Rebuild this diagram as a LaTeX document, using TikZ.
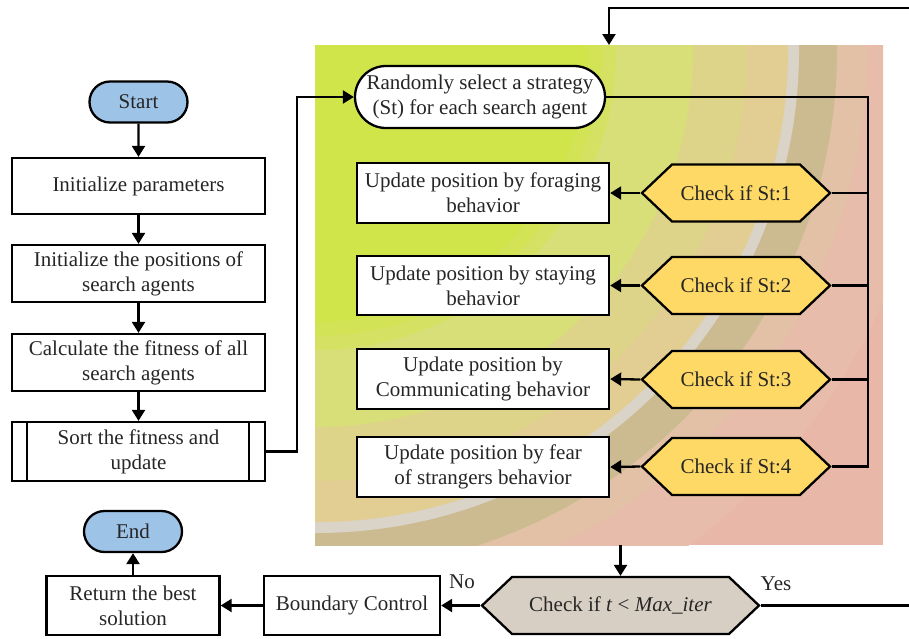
\documentclass[tikz,border=0pt]{standalone}
\usepackage{fontspec}
\setmainfont{Liberation Serif}
\usetikzlibrary{shapes.misc,shapes.symbols,arrows.meta,calc}
\definecolor{lime}{HTML}{CFE54A}
\definecolor{limeb}{HTML}{D2E355}
\definecolor{limec}{HTML}{D5E163}
\definecolor{ygreen}{HTML}{D8DF78}
\definecolor{tana}{HTML}{DDD48A}
\definecolor{tanb}{HTML}{E2CE92}
\definecolor{wband}{HTML}{DAD3C7}
\definecolor{dtan}{HTML}{CCBB91}
\definecolor{pinka}{HTML}{E3C1A6}
\definecolor{pinkb}{HTML}{E8BCAA}
\definecolor{pinkc}{HTML}{E9B7A8}
\definecolor{startblue}{HTML}{9DC3E6}
\definecolor{gold}{HTML}{FFD966}
\definecolor{chkgrey}{HTML}{D8CFC4}
\begin{document}
\begin{tikzpicture}[x=1pt,y=-1pt,
  every node/.style={font=\fontsize{21}{25}\selectfont, text=black!85},
  term/.style={rounded rectangle, draw, line width=2.3pt, fill=startblue, minimum width=102pt, minimum height=41pt, inner sep=2pt},
  proc/.style={rectangle, draw, line width=2.3pt, fill=white, align=center, inner sep=1pt},
  pill/.style={rounded rectangle, draw, line width=2.3pt, fill=white, align=center, inner sep=1pt, minimum width=252pt, minimum height=62pt},
  hexa/.style={signal, signal to=west and east, signal pointer angle=87, draw, line width=2.3pt, fill=gold, minimum width=188pt, minimum height=57pt, inner sep=2pt},
  conn/.style={line width=2.3pt},
  arr/.style={line width=2.3pt, -{Triangle[length=11pt,width=13pt]}},
  lbl/.style={inner sep=0pt}
]
\useasboundingbox (0,0) rectangle (909,638);
% background panel
\begin{scope}
\clip (315,45) rectangle (883,545);
\fill[pinkc] (315,45) rectangle (883,545);
\foreach \r/\c in {620/pinkb, 551/pinka, 521/dtan, 483/wband, 472/tanb, 431/tana, 377/ygreen, 300/limec, 286/limeb, 272/lime}
  \fill[\c] (316,50) circle[radius=\r pt];
\end{scope}

% left column
\node[term] (start) at (138.5,102) {Start};
\node[proc, minimum width=253pt, minimum height=56pt] (init) at (138.5,186) {Initialize parameters};
\node[proc, minimum width=253pt, minimum height=57pt] (pos) at (138.5,273.5) {Initialize the positions of\\search agents};
\node[proc, minimum width=253pt, minimum height=57pt] (calc) at (138.5,362.5) {Calculate the fitness of all\\search agents};
\node[proc, minimum width=253pt, minimum height=59pt] (sort) at (138.5,451.5) {Sort the fitness and\\update};
\draw[line width=1.8pt] ([xshift=16pt]sort.north west) -- ([xshift=16pt]sort.south west);
\draw[line width=1.8pt] ([xshift=-17pt]sort.north east) -- ([xshift=-17pt]sort.south east);

\node[term] (end) at (133,531.5) {End};
\node[proc, minimum width=173pt, minimum height=59pt] (ret) at (133,605.5) {Return the best\\solution};
\node[proc, minimum width=176pt, minimum height=59pt] (bnd) at (352,605.5) {Boundary Control};

% panel nodes
\node[pill] (rnd) at (480,97) {Randomly select a strategy\\(St) for each search agent};
\node[proc, minimum width=252pt, minimum height=60pt] (u1) at (483,193) {Update position by foraging\\behavior};
\node[proc, minimum width=252pt, minimum height=59pt] (u2) at (483,285.5) {Update position by staying\\behavior};
\node[proc, minimum width=252pt, minimum height=60pt] (u3) at (483,379) {Update position by\\Communicating behavior};
\node[proc, minimum width=252pt, minimum height=60pt] (u4) at (483,467) {Update position by fear\\of strangers behavior};
\node[hexa] (h1) at (736,193) {Check if St:1};
\node[hexa] (h2) at (736,285.5) {Check if St:2};
\node[hexa] (h3) at (736,379.5) {Check if St:3};
\node[hexa] (h4) at (736,466.5) {Check if St:4};

\node[hexa, fill=chkgrey, minimum width=277pt] (chk) at (620.5,605.5) {Check if \textit{t} < \textit{Max\_iter}};
\node[lbl] (no) at (462,582) {No};
\node[lbl] (yes) at (776,584) {Yes};

% coordinates
\coordinate (bus) at (868,0);
\coordinate (pb) at (620.5,545);
\coordinate (yesend) at (909,605.5);
\coordinate (topin) at (909,8);
\coordinate (ptop) at (609,45);

% connectors
\draw[arr] (start) -- (init);
\draw[arr] (init) -- (pos);
\draw[arr] (pos) -- (calc);
\draw[arr] (calc) -- (sort);
\draw[arr] (sort.east) -- ++(31,0) |- (rnd.west);
\draw[conn] (rnd.east) -- (rnd.east -| bus) -- (h4.east -| bus) -- (h4.east);
\draw[conn] (h1.east) -- (h1.east -| bus);
\draw[conn] (h2.east) -- (h2.east -| bus);
\draw[conn] (h3.east) -- (h3.east -| bus);
\draw[arr] (h1.west) -- (u1.east);
\draw[arr] (h2.west) -- (u2.east);
\draw[arr] (h3.west) -- (u3.east);
\draw[arr] (h4.west) -- (u4.east);
\draw[arr] (pb) -- (chk.north);
\draw[arr] (chk.west) -- (bnd.east);
\draw[arr] (bnd) -- (ret);
\draw[arr] (ret) -- (end);
\draw[conn] (chk.east) -- (yesend);
\draw[arr] (topin) -| (ptop);
\end{tikzpicture}
\end{document}
